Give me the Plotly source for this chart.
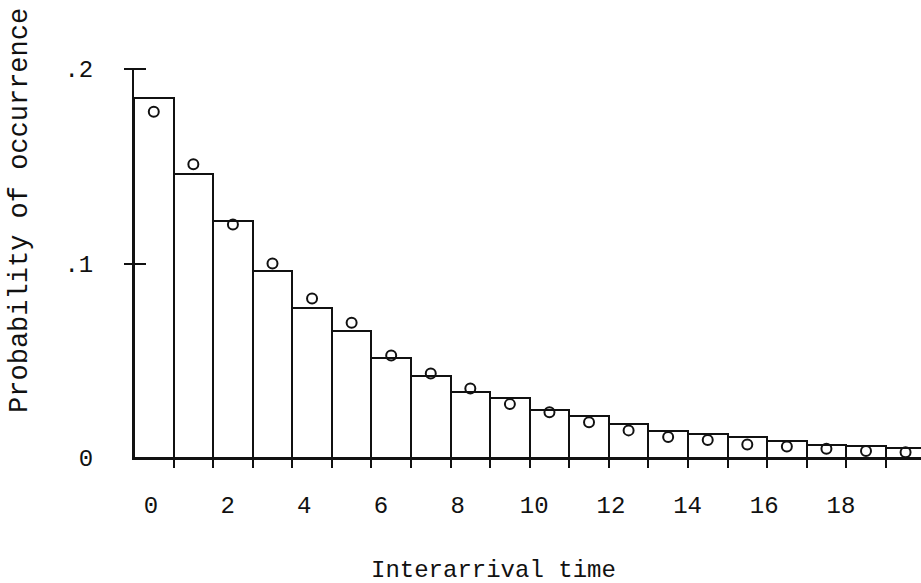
import plotly.graph_objects as go

# ---- data ----
interarrival = list(range(20))
prob_theoretical = [0.185, 0.146, 0.122, 0.096, 0.077, 0.0655, 0.0515, 0.042, 0.034, 0.031,
                    0.0248, 0.0218, 0.0173, 0.0139, 0.0121, 0.011, 0.0085, 0.0068, 0.006, 0.0049]
prob_observed = [0.178, 0.151, 0.120, 0.100, 0.082, 0.0695, 0.0527, 0.0435, 0.0357, 0.0277,
                 0.0235, 0.0184, 0.0142, 0.0108, 0.0092, 0.007, 0.0059, 0.0047, 0.0036, 0.003]
x_tick_labels = ["0", "2", "4", "6", "8", "10", "12", "14", "16", "18"]
x_tick_values = [0, 2, 4, 6, 8, 10, 12, 14, 16, 18]
y_tick_values = [0, 0.1, 0.2]
y_tick_labels = ["0", ".1", ".2"]
y_cross_ticks = [0.1, 0.2]
bin_edges = [i + 0.5 for i in range(20)]

FONT = "Courier New, Liberation Mono, monospace"
INK = "#111111"

fig = go.Figure()
fig.add_trace(go.Bar(
    x=interarrival, y=prob_theoretical, width=1,
    marker=dict(color="white", line=dict(color=INK, width=2)),
    showlegend=False,
))
fig.add_trace(go.Scatter(
    x=interarrival, y=prob_observed, mode="markers",
    marker=dict(symbol="circle-open", size=10, color=INK, line=dict(width=2)),
    showlegend=False, cliponaxis=False,
))
# invisible traces to activate the helper axes
fig.add_trace(go.Scatter(x=[0], y=[0], xaxis="x2", mode="markers",
                         marker=dict(opacity=0), showlegend=False, hoverinfo="skip"))
fig.add_trace(go.Scatter(x=[0], y=[0], yaxis="y2", mode="markers",
                         marker=dict(opacity=0), showlegend=False, hoverinfo="skip"))

fig.update_layout(
    width=921, height=583,
    margin=dict(l=134, r=0, t=69, b=125),
    paper_bgcolor="white", plot_bgcolor="white",
    bargap=0,
    font=dict(family=FONT, color=INK, size=24),
    xaxis=dict(
        range=[-0.5, 19.39], showgrid=False, zeroline=False,
        showline=True, linecolor=INK, linewidth=2,
        tickmode="array", tickvals=bin_edges, ticks="outside", ticklen=8,
        tickwidth=2, tickcolor=INK, showticklabels=False,
    ),
    xaxis2=dict(
        overlaying="x", side="bottom", anchor="y",
        range=[-0.4435, 20.09], showgrid=False, zeroline=False, showline=False,
        tickmode="array", tickvals=x_tick_values, ticktext=x_tick_labels,
        ticks="", ticklabelstandoff=30,
        tickfont=dict(family=FONT, size=24, color=INK),
    ),
    yaxis=dict(
        range=[0, 0.2], showgrid=False, zeroline=False,
        showline=True, linecolor=INK, linewidth=2,
        tickmode="array", tickvals=y_tick_values, ticktext=y_tick_labels,
        ticks="", ticklabelstandoff=34,
        tickfont=dict(family=FONT, size=24, color=INK),
    ),
    yaxis2=dict(
        overlaying="y", side="left", anchor="free", position=0.0152,
        range=[0, 0.2], showgrid=False, zeroline=False, showline=False,
        tickmode="array", tickvals=y_cross_ticks, ticks="outside", ticklen=22,
        tickwidth=2, tickcolor=INK, showticklabels=False,
    ),
    annotations=[
        dict(text="Probability of occurrence", xref="paper", yref="paper",
             x=-0.145, y=0.6375, xanchor="center", yanchor="middle",
             textangle=-90, showarrow=False,
             font=dict(family=FONT, size=27, color=INK)),
        dict(text="Interarrival time", xref="paper", yref="paper",
             x=0.457, y=-0.288, xanchor="center", yanchor="middle",
             showarrow=False, font=dict(family=FONT, size=24, color=INK)),
    ],
)

fig.write_html("out.html")
